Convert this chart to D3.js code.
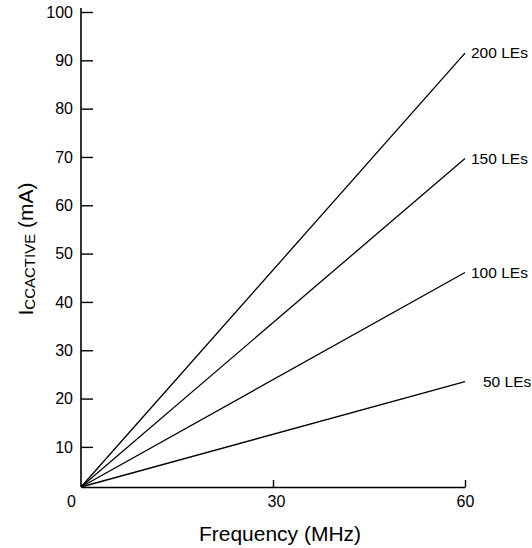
<!DOCTYPE html>
<html>
<head>
<meta charset="utf-8">
<script src="https://cdn.jsdelivr.net/npm/d3@7"></script>
<style>
  body { margin: 0; background: #fff; }
  text { font-family: "Liberation Sans", Arial, Helvetica, sans-serif; fill: #000; }
</style>
</head>
<body>
<script>
// data
const freqs = [0, 60];                       // MHz
const seriesNames = ['50 LEs', '100 LEs', '150 LEs', '200 LEs'];
const iccAt0 = [1.7, 1.7, 1.7, 1.7];         // mA at 0 MHz
const iccAt60 = [23.5, 46.1, 69.7, 91.5];    // mA at 60 MHz
const xTicks = [0, 30, 60];
const yTicks = [10, 20, 30, 40, 50, 60, 70, 80, 90, 100];

const width = 532, height = 548;
const labelDx = [18, 6, 6, 6];

const svg = d3.select('body').append('svg')
    .attr('width', width)
    .attr('height', height);

const x = d3.scaleLinear().domain([0, 60]).range([81, 465]);
const y = d3.scaleLinear().domain([1.7, 100]).range([487, 12]);

// y axis
const yAxis = d3.axisLeft(y)
    .tickValues(yTicks)
    .tickSizeInner(-12)
    .tickSizeOuter(0)
    .tickPadding(8);

const gy = svg.append('g')
    .attr('transform', `translate(${x(0)},0)`)
    .call(yAxis);
gy.select('.domain').attr('stroke-width', 1.6).attr('d', `M0,${y(1.7)}V8`);
gy.selectAll('.tick line').attr('stroke-width', 1.4);
gy.selectAll('.tick text').style('font-size', '16px').attr('fill', '#000');

// x axis
const xAxis = d3.axisBottom(x)
    .tickValues(xTicks)
    .tickSizeInner(-7)
    .tickSizeOuter(0)
    .tickPadding(9);

const gx = svg.append('g')
    .attr('transform', `translate(0,${y(1.7)})`)
    .call(xAxis);
gx.select('.domain').attr('stroke-width', 1.6);
gx.selectAll('.tick line').attr('stroke-width', 1.4);
gx.selectAll('.tick').filter(d => d === 0).select('line').remove();
gx.selectAll('.tick text')
    .style('font-size', '16px')
    .attr('fill', '#000')
    .attr('dx', d => d === 0 ? -10 : (d === 30 ? 3 : 0));

// lines
const line = d3.line().x(d => x(d[0])).y(d => y(d[1]));
seriesNames.forEach((name, i) => {
  const pts = [[freqs[0], iccAt0[i]], [freqs[1], iccAt60[i]]];
  svg.append('path')
      .datum(pts)
      .attr('fill', 'none')
      .attr('stroke', '#000')
      .attr('stroke-width', 1.3)
      .attr('d', line);
  svg.append('text')
      .attr('x', x(60) + labelDx[i])
      .attr('y', y(iccAt60[i]))
      .attr('dy', '0.35em')
      .style('font-size', '15.5px')
      .text(name);
});

// axis titles
svg.append('text')
    .attr('x', 280)
    .attr('y', 541)
    .attr('text-anchor', 'middle')
    .style('font-size', '21px')
    .text('Frequency (MHz)');

const yTitle = svg.append('text')
    .attr('transform', 'translate(33,249) rotate(-90)')
    .attr('text-anchor', 'middle')
    .style('font-size', '21px');
yTitle.append('tspan').text('I');
yTitle.append('tspan').attr('dy', 2).style('font-size', '15px').text('CCACTIVE');
yTitle.append('tspan').attr('dy', -2).text(' (mA)');
</script>
</body>
</html>
